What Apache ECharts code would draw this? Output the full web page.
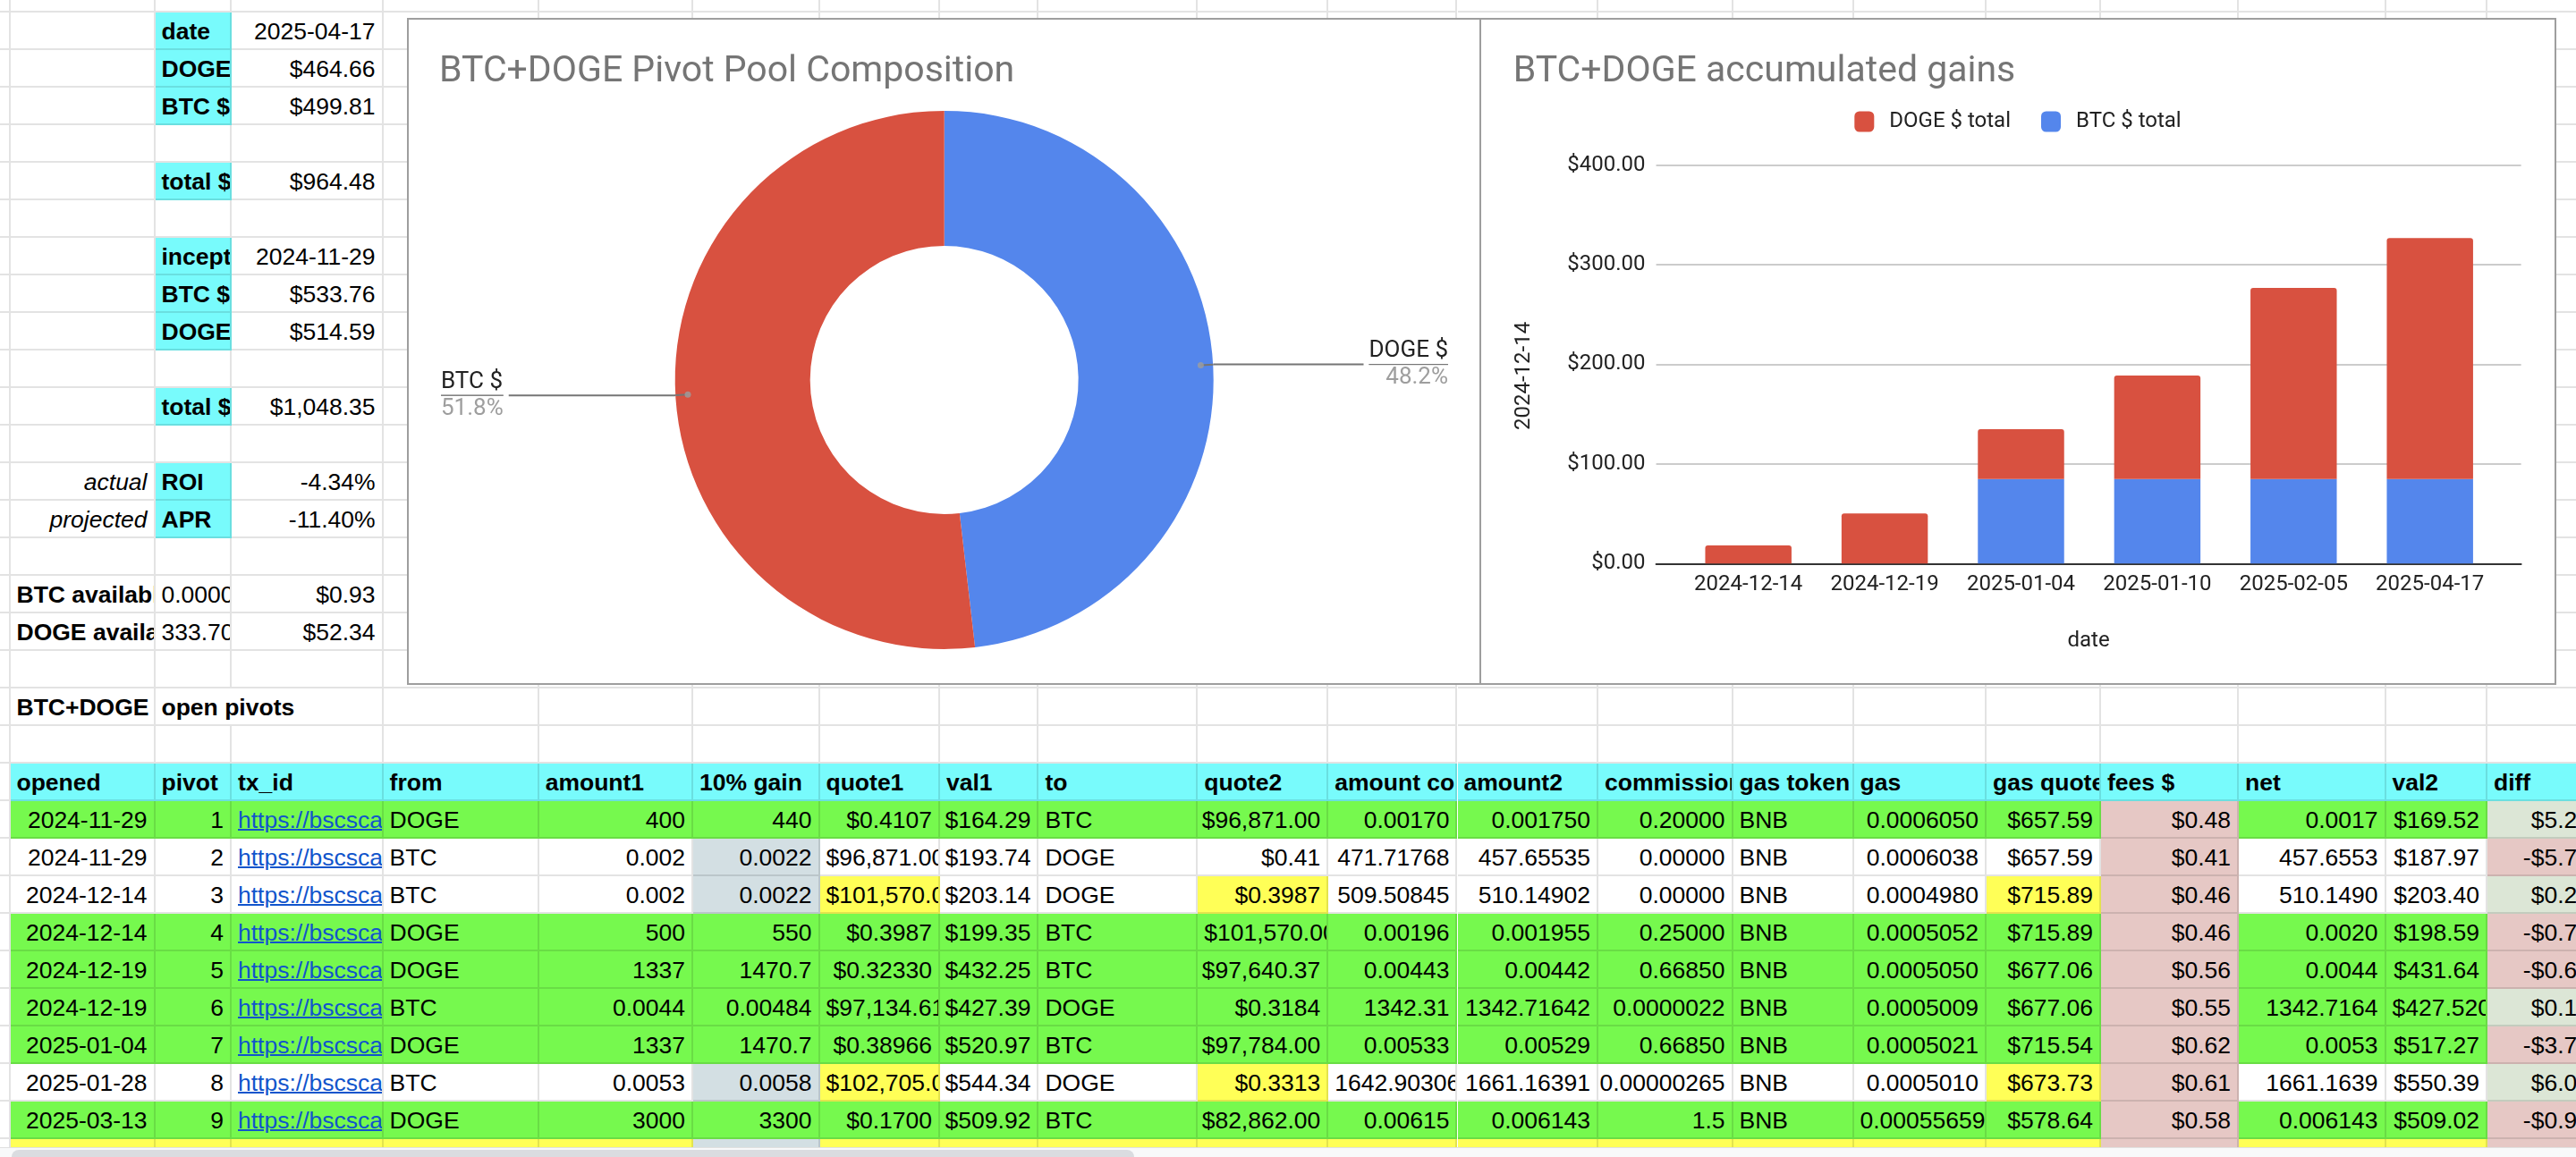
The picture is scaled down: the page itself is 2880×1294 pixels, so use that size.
<!DOCTYPE html>
<html>
<head>
<meta charset="utf-8">
<script src="https://cdn.jsdelivr.net/npm/echarts@6/dist/echarts.min.js"></script>
<style>
html,body{margin:0;padding:0;background:#fff;}
body{width:2880px;height:1294px;overflow:hidden;position:relative;font-family:'Liberation Sans',Arial,sans-serif;}
.c{position:absolute;box-sizing:border-box;overflow:hidden;white-space:nowrap;font-size:26.5px;line-height:42px;color:#000;
   border-right:2px solid rgba(0,0,0,0.11);border-bottom:2px solid rgba(0,0,0,0.11);background:#fff;}
.c span{display:inline-block;}
.chart{position:absolute;background:#fff;outline:2px solid #9e9e9e;outline-offset:-2px;z-index:5;}
#pie{left:455px;top:20px;width:1202px;height:746px;}
#bar{left:1654px;top:20px;width:1204px;height:746px;}
#track{position:absolute;left:0;top:1283px;width:2880px;height:11px;background:#f8f9fa;border-top:1px solid #e0e0e0;z-index:6;}
#thumb{position:absolute;left:13px;top:1286px;width:1255px;height:10px;background:#dadce0;border-radius:8px 8px 0 0;z-index:7;}
</style>
</head>
<body>
<div id="sheet"></div>
<div id="pie" class="chart"></div>
<div id="bar" class="chart"></div>
<div id="track"></div>
<div id="thumb"></div>
<script>
// ---------------- chart data ----------------
const pieNames = ['DOGE $', 'BTC $'];
const pieValues = [464.66, 499.81];
const barDates = ['2024-12-14', '2024-12-19', '2025-01-04', '2025-01-10', '2025-02-05', '2025-04-17'];
const btcTotal = [null, null, 84.8, 84.8, 84.8, 84.8];
const dogeTotal = [18.3, 50.4, 50.0, 104.0, 192.0, 242.0];
const yTickValues = [0, 100, 200, 300, 400];

// ---------------- sheet data ----------------
const summaryRows = [
  [0, 'date', '2025-04-17'], [1, 'DOGE $', '$464.66'], [2, 'BTC $', '$499.81'],
  [4, 'total $', '$964.48'], [6, 'inception', '2024-11-29'], [7, 'BTC $', '$533.76'],
  [8, 'DOGE $', '$514.59'], [10, 'total $', '$1,048.35'], [12, 'ROI', '-4.34%'], [13, 'APR', '-11.40%']
];
const tableHeaders = ['opened', 'pivot', 'tx_id', 'from', 'amount1', '10% gain', 'quote1', 'val1', 'to', 'quote2',
  'amount conv', 'amount2', 'commission', 'gas token', 'gas', 'gas quote', 'fees $', 'net', 'val2', 'diff'];
const LINK = 'https://bscscan.com/tx/';
const tableRows = [
  ['2024-11-29', '1', LINK, 'DOGE', '400', '440', '$0.4107', '$164.29', 'BTC', '$96,871.00', '0.00170', '0.001750', '0.20000', 'BNB', '0.0006050', '$657.59', '$0.48', '0.0017', '$169.52', '$5.23'],
  ['2024-11-29', '2', LINK, 'BTC', '0.002', '0.0022', '$96,871.00', '$193.74', 'DOGE', '$0.41', '471.71768', '457.65535', '0.00000', 'BNB', '0.0006038', '$657.59', '$0.41', '457.6553', '$187.97', '-$5.77'],
  ['2024-12-14', '3', LINK, 'BTC', '0.002', '0.0022', '$101,570.00', '$203.14', 'DOGE', '$0.3987', '509.50845', '510.14902', '0.00000', 'BNB', '0.0004980', '$715.89', '$0.46', '510.1490', '$203.40', '$0.26'],
  ['2024-12-14', '4', LINK, 'DOGE', '500', '550', '$0.3987', '$199.35', 'BTC', '$101,570.00', '0.00196', '0.001955', '0.25000', 'BNB', '0.0005052', '$715.89', '$0.46', '0.0020', '$198.59', '-$0.76'],
  ['2024-12-19', '5', LINK, 'DOGE', '1337', '1470.7', '$0.32330', '$432.25', 'BTC', '$97,640.37', '0.00443', '0.00442', '0.66850', 'BNB', '0.0005050', '$677.06', '$0.56', '0.0044', '$431.64', '-$0.61'],
  ['2024-12-19', '6', LINK, 'BTC', '0.0044', '0.00484', '$97,134.61', '$427.39', 'DOGE', '$0.3184', '1342.31', '1342.71642', '0.0000022', 'BNB', '0.0005009', '$677.06', '$0.55', '1342.7164', '$427.5204', '$0.13'],
  ['2025-01-04', '7', LINK, 'DOGE', '1337', '1470.7', '$0.38966', '$520.97', 'BTC', '$97,784.00', '0.00533', '0.00529', '0.66850', 'BNB', '0.0005021', '$715.54', '$0.62', '0.0053', '$517.27', '-$3.70'],
  ['2025-01-28', '8', LINK, 'BTC', '0.0053', '0.0058', '$102,705.00', '$544.34', 'DOGE', '$0.3313', '1642.90306', '1661.16391', '0.00000265', 'BNB', '0.0005010', '$673.73', '$0.61', '1661.1639', '$550.39', '$6.05'],
  ['2025-03-13', '9', LINK, 'DOGE', '3000', '3300', '$0.1700', '$509.92', 'BTC', '$82,862.00', '0.00615', '0.006143', '1.5', 'BNB', '0.00055659', '$578.64', '$0.58', '0.006143', '$509.02', '-$0.90']
];
const rowGreen = [1, 0, 0, 1, 1, 1, 1, 0, 1];

// ---------------- layout constants ----------------
const COLX = [0, 11.5, 173.5, 259, 428.6, 602.7, 775, 916.5, 1051, 1161.4, 1339.3, 1485.3, 1629.5, 1787, 1937.5, 2072.5, 2221, 2349, 2503, 2667.5, 2781, 2905];
const ROW_TOP = 13.6, RH = 42;
const CYAN = '#78fbfc', GREEN = '#76f94e', YELLOW = '#ffff57', GBLUE = '#d3dfe3', PINK = '#e6c8c5', LGREEN = '#dce6d6';
const RED = '#d85140', BLUE = '#5486ec';

const cells = {};
function put(r, c, spec) { cells[r + ',' + c] = Object.assign(cells[r + ',' + c] || {}, spec); }
const isNum = s => /^-?\$?[\d.,]+%?$/.test(s) || /^\d{4}-\d\d-\d\d$/.test(s);

summaryRows.forEach(([r, l, v]) => { put(r, 2, {t: l, bg: CYAN, b: 1}); put(r, 3, {t: v}); });
put(12, 1, {t: 'actual', i: 1, a: 'r'});
put(13, 1, {t: 'projected', i: 1, a: 'r'});
put(15, 1, {t: 'BTC available', b: 1}); put(15, 2, {t: '0.0000095'}); put(15, 3, {t: '$0.93'});
put(16, 1, {t: 'DOGE available', b: 1}); put(16, 2, {t: '333.7031'}); put(16, 3, {t: '$52.34'});
put(18, 1, {t: 'BTC+DOGE', b: 1}); put(18, 2, {t: 'open pivots', b: 1, ov: 1});
tableHeaders.forEach((h, i) => put(20, i + 1, {t: h, bg: CYAN, b: 1, a: 'l'}));
tableRows.forEach((row, k) => {
  const r = 21 + k, g = rowGreen[k];
  row.forEach((v, i) => {
    const c = i + 1;
    let bg = g ? GREEN : '#fff';
    if (c === 6 && !g) bg = GBLUE;
    if ((k === 2 || k === 7) && (c === 7 || c === 10 || c === 16)) bg = YELLOW;
    if (c === 17) bg = PINK;
    if (c === 20) bg = v.startsWith('-') ? PINK : LGREEN;
    put(r, c, {t: v, bg: bg, link: c === 3});
  });
});
for (let c = 1; c <= 20; c++) {
  let bg = YELLOW;
  if (c === 6) bg = GBLUE;
  if (c === 17 || c === 20) bg = PINK;
  put(30, c, {bg: bg});
}

// ---------------- build sheet ----------------
const sheet = document.getElementById('sheet');
const rightCells = [];
for (let r = -1; r <= 30; r++) {
  for (let c = 0; c < COLX.length - 1; c++) {
    const spec = cells[r + ',' + c] || {};
    const d = document.createElement('div');
    d.className = 'c';
    const w = COLX[c + 1] - COLX[c];
    d.style.left = COLX[c] + 'px';
    d.style.top = (ROW_TOP + RH * r) + 'px';
    d.style.width = w + 'px';
    d.style.height = RH + 'px';
    if (spec.bg) d.style.background = spec.bg;
    if (spec.t) {
      const s = document.createElement('span');
      s.textContent = spec.t;
      if (spec.b) s.style.fontWeight = 'bold';
      if (spec.i) s.style.fontStyle = 'italic';
      if (spec.link) { s.style.color = '#1155cc'; s.style.textDecoration = 'underline'; s.style.textDecorationThickness = '2px'; }
      d.appendChild(s);
      const align = spec.a || (isNum(spec.t) ? 'r' : 'l');
      if (align === 'r') { d.style.textAlign = 'right'; d.style.padding = '0 7px 0 0'; rightCells.push([d, s, w]); }
      else { d.style.textAlign = 'left'; d.style.padding = '0 0 0 7px'; }
      if (spec.ov) { d.style.overflow = 'visible'; d.style.zIndex = 2; d.style.borderRight = 'none'; }
    }
    sheet.appendChild(d);
  }
}
// overflowing numbers are shown left-aligned and clipped, as the spreadsheet does
rightCells.forEach(([d, s, w]) => {
  if (s.offsetWidth > w - 9) { d.style.textAlign = 'left'; d.style.padding = '0 0 0 7px'; }
});

// ---------------- pie chart ----------------
const pieTotal = pieValues.reduce((a, b) => a + b, 0);
let accum = 0;
const pieMid = pieValues.map(v => { const m = accum + v / 2; accum += v; return m; });
const PIE_CENTER = [600.7, 404.9], PIE_R = 301;
const pie = echarts.init(document.getElementById('pie'));
pie.setOption({
  animation: false,
  title: {
    text: 'BTC+DOGE Pivot Pool Composition', left: 36, top: 40, padding: 0,
    textStyle: {fontFamily: 'Roboto', fontSize: 41, fontWeight: 'normal', color: '#757575'}
  },
  polar: {center: PIE_CENTER, radius: PIE_R},
  angleAxis: {type: 'value', min: 0, max: pieTotal, startAngle: 90, clockwise: true, show: false},
  radiusAxis: {type: 'value', min: 0, max: 1, show: false},
  series: [{
    type: 'pie',
    center: PIE_CENTER,
    radius: [150, PIE_R],
    startAngle: 90,
    clockwise: true,
    percentPrecision: 1,
    emphasis: {disabled: true},
    data: pieNames.map((n, i) => ({name: n, value: pieValues[i], itemStyle: {color: [BLUE, RED][i]}})),
    label: {
      show: true, position: 'outer', alignTo: 'edge', edgeDistance: 38,
      fontFamily: 'Roboto',
      formatter: p => '{name|' + p.name + '}\n{hr|}\n{pct|' + p.percent.toFixed(1) + '%}',
      rich: {
        name: {fontFamily: 'Roboto', fontSize: 26, color: '#222', lineHeight: 30},
        hr: {borderColor: '#757575', borderWidth: 1, width: '100%', height: 0},
        pct: {fontFamily: 'Roboto', fontSize: 26, color: '#9e9e9e', lineHeight: 30}
      }
    },
    labelLine: {show: true, length: 1, length2: 10, smooth: false, lineStyle: {color: '#757575', width: 2}}
  }].concat(pieMid.map(m => ({
    type: 'line', coordinateSystem: 'polar', silent: true, z: 3,
    data: [[0.954, m], [1, m]], symbol: 'none',
    lineStyle: {color: '#757575', width: 2}
  }))).concat([{
    type: 'scatter', coordinateSystem: 'polar', silent: true, z: 4,
    data: pieMid.map(m => [0.954, m]), symbolSize: 7,
    itemStyle: {color: '#9e9e9e'}
  }])
});

// ---------------- bar chart ----------------
const bar = echarts.init(document.getElementById('bar'));
bar.setOption({
  animation: false,
  textStyle: {fontFamily: 'Roboto'},
  title: {
    text: 'BTC+DOGE accumulated gains', left: 37.7, top: 40, padding: 0,
    textStyle: {fontFamily: 'Roboto', fontSize: 41, fontWeight: 'normal', color: '#757575'}
  },
  legend: {
    data: ['DOGE $ total', 'BTC $ total'], top: 104, left: 'center', padding: 0,
    itemWidth: 22, itemHeight: 23, itemGap: 34, icon: 'roundRect',
    textStyle: {fontFamily: 'Roboto', fontSize: 24, color: '#222', padding: [0, 0, 0, 12]}
  },
  grid: [
    {left: 197.6, top: 164.6, width: 967, height: 445.7},
    {left: 224.5, top: 164.6, width: 914.4, height: 445.7}
  ],
  xAxis: [
    {gridIndex: 0, type: 'value', min: 0, max: 1,
      axisLine: {show: true, onZero: false, lineStyle: {color: '#333', width: 2}},
      axisTick: {show: false}, axisLabel: {show: false}, splitLine: {show: false},
      name: 'date', nameLocation: 'middle', nameGap: 75,
      nameTextStyle: {fontFamily: 'Roboto', fontSize: 24, color: '#222'}},
    {gridIndex: 1, type: 'category', data: barDates,
      axisLine: {show: false}, axisTick: {show: false},
      axisLabel: {fontFamily: 'Roboto', fontSize: 24, color: '#222', margin: 12, interval: 0}}
  ],
  yAxis: [
    {gridIndex: 0, type: 'value', min: yTickValues[0], max: yTickValues[yTickValues.length - 1], interval: 100,
      axisLine: {show: false}, axisTick: {show: false},
      axisLabel: {fontFamily: 'Roboto', fontSize: 24, color: '#222', margin: 12, formatter: v => '$' + v.toFixed(2)},
      splitLine: {lineStyle: {color: '#cccccc', width: 2}},
      name: '2024-12-14', nameLocation: 'middle', nameGap: 136,
      nameTextStyle: {fontFamily: 'Roboto', fontSize: 24, color: '#222', padding: [0, 26, 0, 0]}},
    {gridIndex: 1, type: 'value', min: 0, max: 400, show: false}
  ],
  series: [
    {name: 'BTC $ total', type: 'bar', xAxisIndex: 1, yAxisIndex: 1, stack: 'g', data: btcTotal,
      barWidth: '63.3%', itemStyle: {color: BLUE}},
    {name: 'DOGE $ total', type: 'bar', xAxisIndex: 1, yAxisIndex: 1, stack: 'g', data: dogeTotal,
      barWidth: '63.3%', itemStyle: {color: RED, borderRadius: [3, 3, 0, 0]}}
  ]
});
</script>
</body>
</html>
